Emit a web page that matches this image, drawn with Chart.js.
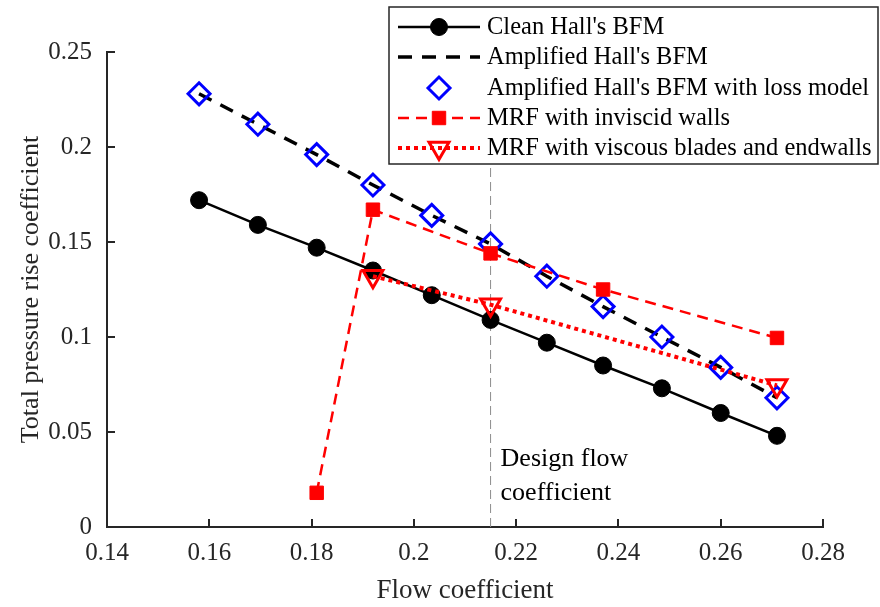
<!DOCTYPE html>
<html>
<head>
<meta charset="utf-8">
<script src="https://cdn.jsdelivr.net/npm/chart.js@4.4.0/dist/chart.umd.min.js"></script>
<style>
  html, body { margin: 0; padding: 0; background: #fff; }
  #wrap { width: 880px; height: 607px; }
</style>
</head>
<body>
<div id="wrap"><canvas id="grafico"></canvas></div>
<script>
// Coeficientes de vazão (eixo x)
const vazaoBFM = [0.158, 0.1695, 0.181, 0.192, 0.2035, 0.215, 0.226, 0.237, 0.2485, 0.26, 0.271];
const vazaoMRFinviscido = [0.181, 0.192, 0.215, 0.237, 0.271];
const vazaoMRFviscoso = [0.192, 0.215, 0.271];
const vazaoProjeto = 0.215;

// Coeficientes de aumento de pressão total (eixo y)
const pressaoHallLimpo = [0.172, 0.159, 0.147, 0.135, 0.122, 0.109, 0.097, 0.085, 0.073, 0.060, 0.048];
const pressaoHallAmplificado = [0.228, 0.212, 0.196, 0.180, 0.164, 0.149, 0.132, 0.116, 0.100, 0.084, 0.068];
const pressaoHallPerdas = [0.228, 0.212, 0.196, 0.180, 0.164, 0.149, 0.132, 0.116, 0.100, 0.084, 0.068];
const pressaoMRFinviscido = [0.018, 0.167, 0.144, 0.125, 0.0995];
const pressaoMRFviscoso = [0.132, 0.117, 0.0745];

const ticksX = [0.14, 0.16, 0.18, 0.2, 0.22, 0.24, 0.26, 0.28];
const ticksY = [0, 0.05, 0.1, 0.15, 0.2, 0.25];

const fonte = "'Liberation Serif', 'Times New Roman', serif";
const corEixo = '#262626';

function pares(xs, ys) {
  return xs.map((x, i) => ({ x: x, y: ys[i] }));
}

function rotulo(v) {
  return String(+v.toFixed(2));
}

// Marcas de escala para dentro + legenda + anotação do ponto de projeto
const pluginExtras = {
  id: 'extras',
  afterDraw(chart) {
    const ctx = chart.ctx;
    const sx = chart.scales.x;
    const sy = chart.scales.y;
    const area = chart.chartArea;

    ctx.save();
    ctx.strokeStyle = corEixo;
    ctx.lineWidth = 2;
    ticksX.forEach(v => {
      const px = Math.round(sx.getPixelForValue(v));
      ctx.beginPath();
      ctx.moveTo(px, area.bottom);
      ctx.lineTo(px, area.bottom - 8);
      ctx.stroke();
    });
    ticksY.forEach(v => {
      const py = Math.round(sy.getPixelForValue(v));
      ctx.beginPath();
      ctx.moveTo(area.left, py);
      ctx.lineTo(area.left + 8, py);
      ctx.stroke();
    });

    // texto do ponto de projeto
    ctx.fillStyle = '#000';
    ctx.font = '26px ' + fonte;
    ctx.textAlign = 'left';
    ctx.textBaseline = 'middle';
    const tx = sx.getPixelForValue(vazaoProjeto) + 10;
    const ty = sy.getPixelForValue(0.0355);
    ctx.fillText('Design flow', tx, ty);
    ctx.fillText('coefficient', tx, ty + 34);

    // legenda
    const caixa = { x: 389, y: 7, w: 489, h: 157 };
    ctx.fillStyle = '#fff';
    ctx.fillRect(caixa.x, caixa.y, caixa.w, caixa.h);
    ctx.strokeStyle = corEixo;
    ctx.lineWidth = 1.5;
    ctx.strokeRect(caixa.x, caixa.y, caixa.w, caixa.h);

    const linhas = [27, 57, 88, 118, 148];
    const itens = chart.data.datasets.filter(d => d.label);
    itens.forEach((d, i) => {
      const y = linhas[i];
      if (d.showLine !== false) {
        ctx.save();
        ctx.strokeStyle = d.borderColor;
        ctx.lineWidth = d.borderWidth;
        ctx.setLineDash(d.borderDash || []);
        ctx.beginPath();
        ctx.moveTo(398, y);
        ctx.lineTo(480, y);
        ctx.stroke();
        ctx.restore();
      }
      if (d.pointStyle) {
        ctx.save();
        ctx.fillStyle = d.backgroundColor;
        ctx.strokeStyle = d.borderColor;
        ctx.lineWidth = d.pointBorderWidth;
        ctx.setLineDash([]);
        Chart.helpers.drawPoint(ctx, {
          pointStyle: d.pointStyle,
          rotation: d.pointRotation || 0,
          radius: d.pointRadius,
          borderWidth: d.pointBorderWidth
        }, 439, y);
        ctx.restore();
      }
      ctx.fillStyle = '#000';
      ctx.font = '24.5px ' + fonte;
      ctx.textAlign = 'left';
      ctx.textBaseline = 'middle';
      ctx.fillText(d.label, 487, y + 1);
    });
    ctx.restore();
  }
};

const ctx = document.getElementById('grafico').getContext('2d');
const grafico = new Chart(ctx, {
  type: 'scatter',
  data: {
    datasets: [
      {
        label: "Clean Hall's BFM",
        data: pares(vazaoBFM, pressaoHallLimpo),
        showLine: true,
        borderColor: '#000',
        backgroundColor: '#000',
        borderWidth: 2.5,
        pointStyle: 'circle',
        pointRadius: 8.5,
        pointBorderWidth: 1,
        order: 5
      },
      {
        label: "Amplified Hall's BFM",
        data: pares(vazaoBFM, pressaoHallAmplificado),
        showLine: true,
        borderColor: '#000',
        backgroundColor: '#000',
        borderWidth: 3.5,
        borderDash: [14, 10],
        pointStyle: false,
        pointRadius: 0,
        order: 4
      },
      {
        label: "Amplified Hall's BFM with loss model",
        data: pares(vazaoBFM, pressaoHallPerdas),
        showLine: false,
        borderColor: '#0000ff',
        backgroundColor: 'rgba(0,0,0,0)',
        pointStyle: 'rectRot',
        pointRadius: 11,
        pointBorderWidth: 3,
        order: 3
      },
      {
        label: 'MRF with inviscid walls',
        data: pares(vazaoMRFinviscido, pressaoMRFinviscido),
        showLine: true,
        borderColor: '#ff0000',
        backgroundColor: '#ff0000',
        borderWidth: 2.5,
        borderDash: [11, 7],
        pointStyle: 'rect',
        pointRadius: 9.5,
        pointBorderWidth: 1,
        order: 2
      },
      {
        label: 'MRF with viscous blades and endwalls',
        data: pares(vazaoMRFviscoso, pressaoMRFviscoso),
        showLine: true,
        borderColor: '#ff0000',
        backgroundColor: 'rgba(0,0,0,0)',
        borderWidth: 4,
        borderDash: [4, 4],
        pointStyle: 'triangle',
        pointRotation: 180,
        pointRadius: 11.5,
        pointBorderWidth: 3,
        order: 1
      },
      {
        // linha vertical do coeficiente de projeto
        data: [{ x: vazaoProjeto, y: 0 }, { x: vazaoProjeto, y: 0.25 }],
        showLine: true,
        borderColor: '#8c8c8c',
        borderWidth: 1,
        borderDash: [9, 5],
        pointRadius: 0,
        order: 6
      }
    ]
  },
  options: {
    responsive: true,
    maintainAspectRatio: false,
    animation: false,
    layout: { padding: { top: 52, right: 57, left: 0, bottom: 0 } },
    plugins: {
      legend: { display: false },
      tooltip: { enabled: false }
    },
    elements: {
      point: { borderColor: ctx => ctx.dataset.borderColor }
    },
    scales: {
      x: {
        type: 'linear',
        min: 0.14,
        max: 0.28,
        afterFit: s => { s.height = 80; },
        afterBuildTicks: s => { s.ticks = ticksX.map(v => ({ value: v })); },
        grid: { display: false },
        border: { display: true, color: corEixo, width: 2 },
        ticks: {
          color: '#262626',
          font: { family: fonte, size: 25 },
          padding: 3,
          maxRotation: 0,
          callback: v => rotulo(v)
        },
        title: {
          display: true,
          text: 'Flow coefficient',
          color: '#262626',
          font: { family: fonte, size: 27 },
          padding: { top: 0, bottom: 0 }
        }
      },
      y: {
        type: 'linear',
        min: 0,
        max: 0.25,
        afterFit: s => { s.width = 107; },
        afterBuildTicks: s => { s.ticks = ticksY.map(v => ({ value: v })); },
        grid: { display: false },
        border: { display: true, color: corEixo, width: 2 },
        ticks: {
          color: '#262626',
          font: { family: fonte, size: 25 },
          padding: 7,
          callback: v => rotulo(v)
        },
        title: {
          display: true,
          text: 'Total pressure rise coefficient',
          color: '#262626',
          font: { family: fonte, size: 26 },
          padding: { top: 16, bottom: 0 }
        }
      }
    }
  },
  plugins: [pluginExtras]
});
</script>
</body>
</html>
